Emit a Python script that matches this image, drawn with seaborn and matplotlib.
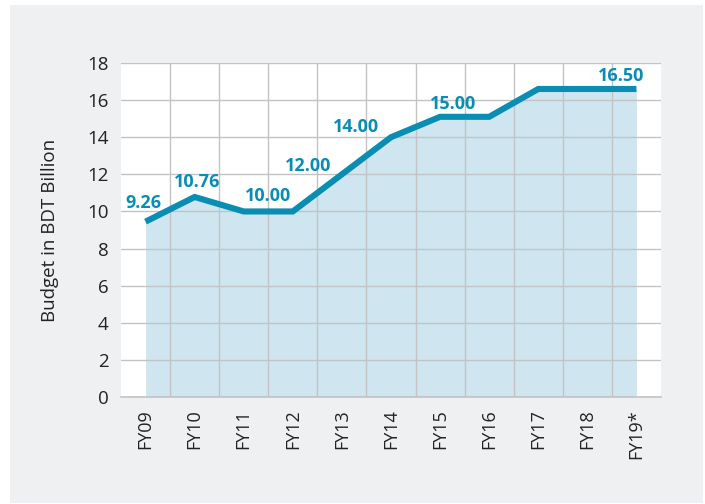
import matplotlib
matplotlib.use("Agg")
import matplotlib.pyplot as plt
import seaborn as sns
import pandas as pd
import numpy as np
from matplotlib.patches import Rectangle

# Data
years = ["FY09", "FY10", "FY11", "FY12", "FY13", "FY14", "FY15", "FY16", "FY17", "FY18", "FY19*"]
budget = [9.45, 10.78, 10.0, 10.0, 12.0, 14.0, 15.1, 15.1, 16.6, 16.6, 16.6]
label_texts = ["9.26", "10.76", "10.00", "12.00", "14.00", "15.00", "16.50"]
# label positions (category index, value units)
label_x = [-0.04, 1.06, 2.5, 3.31, 4.29, 6.27, 9.69]
label_y = [10.47, 11.6, 10.85, 12.45, 14.55, 15.77, 17.3]

LINE = "#0a8db3"
FILL = "#cfe5ef"
GRID = "#c3c3c6"
BG = "#eff0f2"

sns.set_theme(style="white")
plt.rcParams["font.family"] = ["Open Sans", "DejaVu Sans"]

df = pd.DataFrame({"year": years, "budget": budget, "idx": np.arange(len(years))})

fig = plt.figure(figsize=(7.05, 5.04), dpi=100)
fig.patch.set_facecolor("white")
fig.add_artist(Rectangle((10 / 705, 1 / 504), 693 / 705, 498 / 504,
                         transform=fig.transFigure, facecolor=BG,
                         edgecolor="none", zorder=-10))
ax = fig.add_axes([121 / 705, 1 - 397 / 504, 540 / 705, 334 / 504])
ax.set_zorder(1)
ax.set_facecolor("white")

ax.fill_between(df["idx"], 0, df["budget"], color=FILL, lw=0, zorder=1)
sns.lineplot(data=df, x="idx", y="budget", ax=ax, color=LINE, lw=4.4,
             zorder=3, solid_joinstyle="miter", solid_capstyle="butt")

for t, x, y in zip(label_texts, label_x, label_y):
    ax.text(x, y, t, ha="center", va="center", fontsize=13,
            fontweight="bold", color=LINE, zorder=4)

ax.set_xlim(-0.5, 10.5)
ax.set_ylim(0, 18)
ax.set_yticks(np.arange(0, 19, 2))
ax.set_xticks(df["idx"])
ax.set_xticklabels(years, rotation=90, fontsize=13, color="#222222")
ax.set_xticks(np.arange(0.5, 10, 1), minor=True)
ax.tick_params(axis="y", labelsize=13.5, colors="#222222", length=0, pad=9)
ax.tick_params(axis="x", which="major", length=0, pad=9)
ax.tick_params(axis="x", which="minor", length=0)
ax.grid(False)
ax.grid(True, axis="y", which="major", color=GRID, lw=1.0, zorder=2)
ax.grid(True, axis="x", which="minor", color=GRID, lw=1.0, zorder=2)
ax.set_axisbelow(False)
for s in ["left", "right", "top"]:
    ax.spines[s].set_visible(False)
ax.spines["bottom"].set_color(GRID)
ax.spines["bottom"].set_linewidth(1.2)
ax.set_xlabel("")
ax.set_ylabel("Budget in BDT Billion", fontsize=13.5, color="#222222", labelpad=20)

fig.savefig("out.png", dpi=100)
